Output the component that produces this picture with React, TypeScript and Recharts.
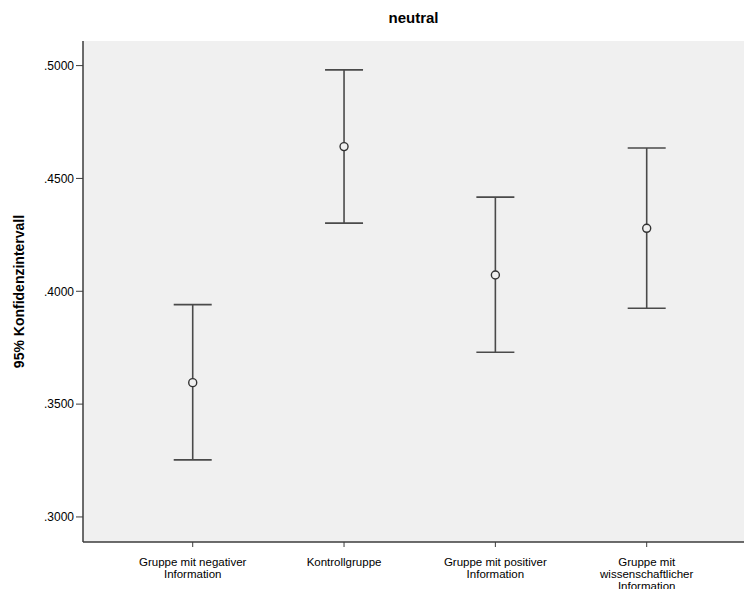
import React from 'react';
import { ComposedChart, Scatter, ErrorBar, XAxis, YAxis, CartesianGrid } from 'recharts';

// Groups on the category axis
const categories = [
  'Gruppe mit negativer Information',
  'Kontrollgruppe',
  'Gruppe mit positiver Information',
  'Gruppe mit wissenschaftlicher Information',
];
const tickLines = [
  ['Gruppe mit negativer', 'Information'],
  ['Kontrollgruppe'],
  ['Gruppe mit positiver', 'Information'],
  ['Gruppe mit', 'wissenschaftlicher', 'Information'],
];

// Mean and 95% confidence bounds per group
const means = [0.3595, 0.4641, 0.4072, 0.4279];
const lower = [0.3253, 0.4302, 0.373, 0.3925];
const upper = [0.3941, 0.4981, 0.4417, 0.4635];

const yTicks = [0.3, 0.35, 0.4, 0.45, 0.5];

const data = categories.map((name, i) => ({
  x: i,
  name,
  mean: means[i],
  err: [means[i] - lower[i], upper[i] - means[i]],
}));

const FONT = 'Arial, "Liberation Sans", sans-serif';
const AXIS = '#3c3c3c';

const fmtY = (v: number) => v.toFixed(4).replace(/^0/, '');

const CategoryTick = (props: any) => {
  const { x, y, payload } = props;
  const lines = tickLines[payload.value] || [];
  return (
    <g>
      {lines.map((ln, k) => (
        <text
          key={k}
          x={x}
          y={y + 17 + k * 12}
          textAnchor="middle"
          fontFamily={FONT}
          fontSize={11.5}
          fill="#000"
        >
          {ln}
        </text>
      ))}
    </g>
  );
};

const Marker = (props: any) => {
  const { cx, cy } = props;
  return <circle cx={cx} cy={cy} r={4} fill="#f0f0f0" stroke="#333" strokeWidth={1.4} />;
};

export default function App() {
  return (
    <div style={{ position: 'absolute', left: 0, top: 0, width: 744, height: 589, background: '#fff', overflow: 'hidden' }}>
      <div
        style={{
          position: 'absolute',
          left: 83,
          width: 661,
          top: 9,
          textAlign: 'center',
          fontFamily: FONT,
          fontSize: 15,
          fontWeight: 'bold',
          lineHeight: '18px',
          color: '#000',
        }}
      >
        neutral
      </div>
      <ComposedChart
        width={744}
        height={589}
        margin={{ top: 41, right: 0, bottom: 0, left: 0 }}
      >
        <CartesianGrid fill="#f0f0f0" stroke="none" horizontal={false} vertical={false} />
        <XAxis
          xAxisId="top"
          orientation="top"
          type="number"
          dataKey="x"
          domain={[-0.725, 3.643]}
          height={0}
          tick={false}
          tickLine={false}
          axisLine={{ stroke: '#555', strokeWidth: 1.5 }}
        />
        <XAxis
          xAxisId="bottom"
          orientation="bottom"
          type="number"
          dataKey="x"
          domain={[-0.725, 3.643]}
          ticks={[0, 1, 2, 3]}
          interval={0}
          height={47}
          tick={<CategoryTick />}
          tickSize={5}
          tickLine={{ stroke: AXIS }}
          axisLine={{ stroke: AXIS, strokeWidth: 1.5 }}
        />
        <YAxis
          type="number"
          domain={[0.2889, 0.5109]}
          ticks={yTicks}
          tickFormatter={fmtY}
          width={83}
          tickSize={7}
          tickLine={{ stroke: AXIS }}
          axisLine={{ stroke: AXIS, strokeWidth: 1.5 }}
          tick={{ fontFamily: FONT, fontSize: 12, fill: '#000' }}
          label={{
            content: (p: any) => {
              const vb = p.viewBox || { x: 0, y: 41, height: 501 };
              const cx = 19;
              const cy = vb.y + vb.height / 2;
              return (
                <text
                  x={cx}
                  y={cy}
                  transform={`rotate(-90 ${cx} ${cy})`}
                  textAnchor="middle"
                  dominantBaseline="central"
                  fontFamily={FONT}
                  fontSize={14}
                  fontWeight="bold"
                  fill="#000"
                >
                  95% Konfidenzintervall
                </text>
              );
            },
          }}
        />
        <Scatter
          data={data}
          dataKey="mean"
          xAxisId="bottom"
          shape={<Marker />}
          isAnimationActive={false}
        >
          <ErrorBar
            dataKey="err"
            direction="y"
            width={19}
            stroke="#4a4a4a"
            strokeWidth={1.6}
            isAnimationActive={false}
          />
        </Scatter>
      </ComposedChart>
    </div>
  );
}
